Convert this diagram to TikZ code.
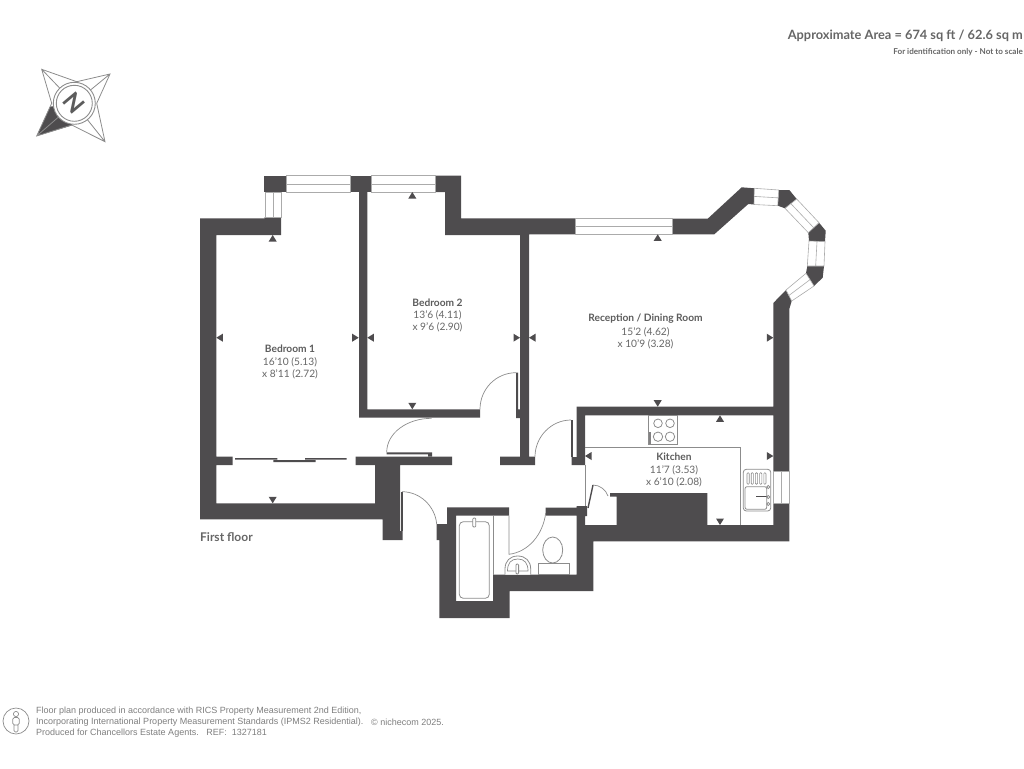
\documentclass[tikz,border=0pt]{standalone}
\usepackage{fontspec}
\setmainfont{Lato}
\newfontfamily\footfont{Liberation Sans}
\usetikzlibrary{calc}
\definecolor{wallgrey}{HTML}{4E4C4E}
\definecolor{thingrey}{HTML}{8C8C8C}
\definecolor{panegrey}{HTML}{ABABAB}
\definecolor{textgrey}{HTML}{666666}
\tikzset{
  wall/.style={fill=wallgrey,draw=none},
  fitting/.style={draw=thingrey,line width=0.8pt,fill=white},
  pane/.style={draw=panegrey,line width=0.6pt,fill=white},
  swing/.style={draw=thingrey,line width=0.7pt},
  roomname/.style={font=\bfseries\fontsize{10.2}{11}\selectfont,text=textgrey!90!black,inner sep=0pt},
  roomsize/.style={font=\fontsize{10.2}{11}\selectfont,text=textgrey,inner sep=0pt},
  footline/.style={font=\footfont\fontsize{9}{10}\selectfont,text=thingrey!90!black,inner sep=0pt,anchor=west}
}
\begin{document}
\begin{tikzpicture}[x=1pt,y=-1pt]
  \useasboundingbox (0,0) rectangle (1024,768);
  % outer and inner walls
  \fill[wall] (200,218.3) -- (264.5,218.3) -- (264.5,217) -- (281,217) -- (281,235) -- (216.3,235)
    -- (216.3,456.7) -- (232.7,456.7) -- (232.7,465) -- (216.3,465) -- (216.3,503.3) -- (375,503.3)
    -- (375,465) -- (355.7,465) -- (355.7,456.7) -- (452,456.7) -- (452,465) -- (400,465)
    -- (400,531) -- (402.5,531) -- (402.5,540) -- (382.7,540) -- (382.7,519.3) -- (200,519.3) -- cycle;
  \fill[wall] (264.3,175.7) rectangle (286.3,192);
  \fill[wall] (350.7,175.7) rectangle (371,192);
  \fill[wall] (359,192) -- (367.3,192) -- (367.3,409.3) -- (480,409.3) -- (480,417.7) -- (359,417.7) -- cycle;
  \fill[wall] (435,175.7) -- (461,175.7) -- (461,218.3) -- (575.7,218.3) -- (575.7,234.3) -- (529,234.3)
    -- (529,456.7) -- (535,456.7) -- (535,465) -- (500,465) -- (500,456.7) -- (520,456.7)
    -- (520,235) -- (445,235) -- (445,192) -- (435,192) -- cycle;
  \fill[wall] (672,218.7) -- (707.7,218.7) -- (741.7,187.3) -- (754.3,188.3) -- (754,204.5) -- (748.3,204)
    -- (714.3,234.3) -- (672,234.3) -- cycle;
  \fill[wall] (778.7,190) -- (789.3,190) -- (796.7,199) -- (785,208.3) -- (777.7,205.7) -- cycle;
  \fill[wall] (819,222.7) -- (825.7,230.7) -- (825,241.7) -- (809,241) -- (808.3,232.7) -- cycle;
  \fill[wall] (824,266) -- (822.7,277.7) -- (814,286) -- (806,273.3) -- (807.3,266) -- cycle;
  \fill[wall] (786,290) -- (791.7,301) -- (789.3,309) -- (789.3,471) -- (773.3,471) -- (773.3,415.3)
    -- (585,415.3) -- (585,465) -- (571.7,465) -- (571.7,457) -- (576.7,457) -- (576.7,406.7)
    -- (773.3,406.7) -- (773.3,303) -- cycle;
  \fill[wall] (789.3,503.3) -- (789.3,541.3) -- (593.3,541.3) -- (593.3,591) -- (509.7,591) -- (509.7,618)
    -- (439.3,618) -- (439.3,540) -- (436.7,540) -- (436.7,524) -- (447,524) -- (447,507.3) -- (509,507.3)
    -- (509,515.7) -- (456,515.7) -- (456,601) -- (493,601) -- (493,574.7) -- (576.7,574.7) -- (576.7,515.7)
    -- (545.7,515.7) -- (545.7,507.7) -- (576.7,507.7) -- (576.7,506) -- (587,506) -- (587,516) -- (585,516)
    -- (585,525) -- (616.7,525) -- (616.7,496.7) -- (610,496.7) -- (610,493) -- (707.3,493) -- (707.3,525)
    -- (773.3,525) -- (773.3,503.3) -- cycle;
  % windows
  \foreach \a/\b/\c/\d in {{286.3,175.7}/{350.7,175.7}/{350.7,192}/{286.3,192},
      {371,175.7}/{435,175.7}/{435,192}/{371,192},
      {265,192}/{265,217}/{281,217}/{281,192},
      {575.7,218.7}/{672,218.7}/{672,234.3}/{575.7,234.3},
      {754.3,188.3}/{778.7,190}/{777.7,205.7}/{754,204.5},
      {796.7,199}/{819,222.7}/{808.3,232.7}/{785,208.3},
      {825,241.7}/{824,266}/{807.3,266}/{809,241},
      {814,286}/{791.7,301}/{786,290}/{806,273.3},
      {773.3,471}/{773.3,503.3}/{789.3,503.3}/{789.3,471}}
    \draw[pane] (\a) -- (\b) -- (\c) -- (\d) -- cycle ($(\a)!.5!(\d)$) -- ($(\b)!.5!(\c)$);
  % wardrobe doors
  \fill[wall] (235,458) rectangle (277.3,459.5) (273.3,460) rectangle (315.7,462) (305,458) rectangle (346.7,459.5);
  % doors
  \fill[wall] (386.7,452.3) rectangle (428,454.3) (428,452.3) rectangle (432,456.7);
  \draw[swing] (386.7,452.3) .. controls (386.7,433) and (407,418.3) .. (431.7,418.3);
  \fill[wall] (516,372.7) rectangle (518,409.3) (516,409.3) rectangle (520,418);
  \draw[swing] (516,372.7) .. controls (496,372.7) and (480,389) .. (480,409.3);
  \fill[wall] (571,420) rectangle (572.7,457);
  \draw[swing] (571,420) .. controls (551,420) and (535,437) .. (535,456.7);
  \fill[wall] (400.7,491.7) rectangle (402.7,531);
  \draw[swing] (402,491.7) .. controls (420,491.7) and (435,506) .. (436.7,524);
  \draw[swing] (509,515.7) -- (509,554.3) .. controls (528,552) and (543,535) .. (545.7,513);
  \draw[wallgrey,line width=1.4pt] (588,508) -- (593,485);
  \draw[swing] (593,485) .. controls (600,485) and (606,490) .. (608,496);
  % kitchen fittings
  \draw[swing] (585,465) -- (585,506);
  \draw[swing] (585,447.3) -- (740.7,447.3) -- (740.7,525);
  \draw[fitting] (648.3,415.3) rectangle (677.7,444.3);
  \draw[fitting] (658,423.3) circle (4.3) (670,423.3) circle (4.3) (658,436.7) circle (4.7) (670,436.7) circle (4.7);
  \fill[wallgrey!70] (648.8,432) rectangle (651,443.5);
  \draw[fitting,rounded corners=3] (743.3,469.3) rectangle (770.7,511);
  \draw[fitting,rounded corners=2] (745,486.7) rectangle (766.7,509.3);
  \foreach \x in {747,751.2,755.4,759.6,763.8}
    \draw[fitting,line width=0.6pt,rounded corners=1] (\x,472.7) rectangle ++(2.2,11.6);
  \draw[wallgrey,line width=0.8pt] (756,496.7) -- (768,496.7);
  \foreach \y in {487,497,504}
    \draw[fitting] (768.3,\y) circle (1.6);
  % bathroom fittings
  \draw[swing] (493,515.7) -- (493,574.7);
  \draw[fitting,rounded corners=4] (459.3,521.7) rectangle (489.3,598.3);
  \draw[fitting,rounded corners=1] (472.8,518) rectangle (475.8,527);
  \draw[fitting] (505,574.7) -- (505,569) .. controls (505,561) and (510,556) .. (517.8,556)
    .. controls (525.5,556) and (530.7,561) .. (530.7,569) -- (530.7,574.7);
  \draw[swing] (507.5,571) .. controls (507.5,563) and (511,559) .. (517.8,559)
    .. controls (524.5,559) and (528,563) .. (528,571) -- cycle;
  \draw[fitting,rounded corners=1] (516,564) rectangle (518.6,574);
  \draw[fitting] (538.7,563.3) rectangle (569.3,574.7);
  \draw[fitting] (552.7,550) ellipse (10 and 13);
  % room dimension marks
  \foreach \x/\y/\r in {272.7/235/0,216.3/337.7/90,358.7/337.7/270,272.7/503.3/180,
      412.3/192/0,367.3/337.7/90,520/337.7/270,412.3/409.3/180,
      657.7/234.3/0,529/337.7/90,773.3/337.7/270,657.7/406.7/180,
      720/415.3/0,585/456/90,773.3/456/270,720/525/180}
    \fill[wall,shift={(\x,\y)},rotate=\r] (0,0) -- (-4,6.5) -- (4,6.5) -- cycle;
  % room labels
  \node[roomname] (bedonename) at (290,349) {Bedroom 1};
  \node[roomsize] (bedonelen) at (290,362) {16'10 (5.13)};
  \node[roomsize] (bedonewid) at (290,374.5) {x 8'11 (2.72)};
  \node[roomname] (bedtwoname) at (437.5,303) {Bedroom 2};
  \node[roomsize] (bedtwolen) at (437.5,315) {13'6 (4.11)};
  \node[roomsize] (bedtwowid) at (437.5,327.5) {x 9'6 (2.90)};
  \node[roomname] (recname) at (645.5,319) {Reception / Dining Room};
  \node[roomsize] (reclen) at (645.5,332) {15'2 (4.62)};
  \node[roomsize] (recwid) at (645.5,344) {x 10'9 (3.28)};
  \node[roomname] (kitname) at (674,457) {Kitchen};
  \node[roomsize] (kitlen) at (674,470) {11'7 (3.53)};
  \node[roomsize] (kitwid) at (674,482.5) {x 6'10 (2.08)};
  \node[inner sep=0pt,anchor=west,text=textgrey,font=\bfseries\fontsize{12}{14}\selectfont] (floorname) at (200,537) {First floor};
  % heading
  \node[inner sep=0pt,anchor=east,text=textgrey,font=\bfseries\fontsize{12.8}{14}\selectfont] (areatext) at (1023,36) {Approximate Area = 674 sq ft / 62.6 sq m};
  \node[inner sep=0pt,anchor=east,text=textgrey,font=\bfseries\fontsize{8.1}{9}\selectfont] (scaletext) at (1023,52) {For identification only - Not to scale};
  % compass
  \fill[wall] (36.7,136) -- (50,106.7) -- (74.3,103.3) -- (71.7,125.5) -- cycle;
  \draw[swing,line width=0.8pt] (41.7,69.3) -- (76.7,81.7) -- (110,74) -- (96.7,103.3) -- (105,141.7)
    -- (71.7,125) -- (36.7,136) -- (51.7,103.3) -- cycle
    (41.7,69.3) -- (74.3,103.3) (110,74) -- (74.3,103.3) (105,141.7) -- (74.3,103.3) (36.7,136) -- (74.3,103.3);
  \draw[swing,line width=0.9pt,fill=white] (74.3,103.3) circle (21);
  \draw[swing,line width=0.9pt] (74.3,103.3) circle (18);
  \node[inner sep=0pt,rotate=-50,text=textgrey!90!black,font=\bfseries\fontsize{24}{24}\selectfont] (northmark) at (74.3,103.3) {N};
  % footer
  \draw[swing] (16,721) circle (13);
  \draw[swing] (16,714) circle (2.6);
  \draw[swing,rounded corners=1.5] (12.8,717.5) rectangle (19.2,725) (14,725) -- (14,732) -- (18,732) -- (18,725);
  \node[footline] (footone) at (36,711) {Floor plan produced in accordance with RICS Property Measurement 2nd Edition,};
  \node[footline] (foottwo) at (36,722) {Incorporating International Property Measurement Standards (IPMS2 Residential).};
  \node[footline] (footthree) at (36,733.5) {Produced for Chancellors Estate Agents.\ \ \ REF:\ \ 1327181};
  \node[footline] (footmark) at (371,722) {© nichecom 2025.};
\end{tikzpicture}
\end{document}
